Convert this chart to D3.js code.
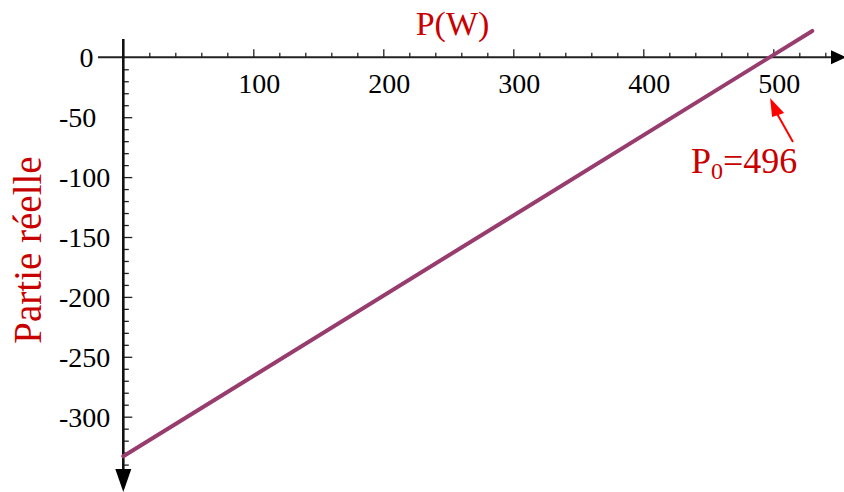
<!DOCTYPE html>
<html>
<head>
<meta charset="utf-8">
<script src="https://cdn.jsdelivr.net/npm/d3@7"></script>
<style>
  html, body { margin: 0; padding: 0; background: #fff; }
  svg { display: block; }
  svg text, svg tspan { font-family: "Liberation Serif", serif !important; }
</style>
</head>
<body>
<svg id="chart" width="844" height="492" font-family="Liberation Serif"></svg>
<script>
// ---- data ----
const pValues = [0, 530];            // P (W)
const realPart = [-333, 22];         // Partie réelle
const xTickLabels = [100, 200, 300, 400, 500];
const yTickLabels = [0, -50, -100, -150, -200, -250, -300];
const xMinorTicks = d3.range(0, 541, 20);
const yMinorTicks = d3.range(0, -341, -10);
const p0 = 496;
const xTitle = "P(W)";
const yTitle = "Partie réelle";

const red = "#c80000";
const FONT = "Liberation Serif";

const svg = d3.select("#chart");

const x = d3.scaleLinear().domain([0, 500]).range([123.3, 773.3]);
const y = d3.scaleLinear().domain([0, -300]).range([57.3, 416.7]);

// ---- X axis (ticks above line) ----
const gx = svg.append("g").attr("transform", `translate(0,${y(0)})`);
gx.call(d3.axisTop(x).tickValues(xMinorTicks).tickSize(4.5).tickSizeOuter(0).tickFormat(""));
gx.attr("font-family", null).attr("font-size", null);
gx.select(".domain").remove();
gx.selectAll(".tick text").remove();
gx.selectAll(".tick line").attr("stroke", "#222").attr("stroke-width", 1.3)
  .attr("y2", d => (d % 100 === 0 ? -8 : -4.5));
gx.selectAll(".tick").filter(d => d === 0).remove();
svg.append("line").attr("x1", 98).attr("x2", 834).attr("y1", y(0)).attr("y2", y(0))
  .attr("stroke", "#222").attr("stroke-width", 2);
svg.append("path").attr("d", `M831,${y(0) - 7} L846,${y(0)} L831,${y(0) + 7} Z`).attr("fill", "#000");

svg.append("g").selectAll("text").data(xTickLabels).join("text")
  .attr("x", d => x(d) + 6).attr("y", 93)
  .attr("text-anchor", "middle")
  .attr("font-family", FONT).attr("font-size", 28).attr("fill", "#000")
  .text(d => d);

// ---- Y axis (ticks right of line) ----
const gy = svg.append("g").attr("transform", `translate(${x(0)},0)`);
gy.call(d3.axisRight(y).tickValues(yMinorTicks).tickSize(5).tickSizeOuter(0).tickFormat(""));
gy.attr("font-family", null).attr("font-size", null);
gy.select(".domain").remove();
gy.selectAll(".tick text").remove();
gy.selectAll(".tick line").attr("stroke", "#222").attr("stroke-width", 1.3)
  .attr("x2", d => (d % 50 === 0 ? 9 : 5.5));
gy.selectAll(".tick").filter(d => d === 0).remove();
svg.append("line").attr("x1", x(0)).attr("x2", x(0)).attr("y1", 39).attr("y2", 472)
  .attr("stroke", "#111").attr("stroke-width", 2.6);
svg.append("path").attr("d", `M${x(0) - 8},469 L${x(0)},492 L${x(0) + 8},469 Z`).attr("fill", "#000");

svg.append("g").selectAll("text").data(yTickLabels).join("text")
  .attr("x", d => (d === 0 ? 93.5 : 59))
  .attr("y", d => y(d) + 10)
  .attr("text-anchor", d => (d === 0 ? "end" : "start"))
  .attr("font-family", FONT).attr("font-size", 28).attr("fill", "#000")
  .text(d => (d < 0 ? "-" + Math.abs(d) : d));

// ---- data line ----
const line = d3.line().x(d => x(d[0])).y(d => y(d[1]));
svg.append("path")
  .datum(pValues.map((p, i) => [p, realPart[i]]))
  .attr("d", line)
  .attr("fill", "none").attr("stroke", "#983c6e").attr("stroke-width", 4)
  .attr("stroke-linecap", "round");

// ---- titles ----
svg.append("text").attr("x", 452.5).attr("y", 34.5).attr("text-anchor", "middle")
  .attr("font-family", FONT).attr("font-size", 34).attr("fill", red).text(xTitle);
svg.append("text").attr("transform", "translate(41,250) rotate(-90)")
  .attr("text-anchor", "middle")
  .attr("font-family", FONT).attr("font-size", 39).attr("fill", red).text(yTitle);

// ---- annotation ----
const tipX = x(p0) + 2, tipY = 98;
svg.append("line").attr("x1", 793).attr("y1", 142).attr("x2", tipX + 6).attr("y2", tipY + 14)
  .attr("stroke", "#ff0000").attr("stroke-width", 2);
svg.append("path")
  .attr("d", `M${tipX},${tipY} L${tipX + 14},${tipY + 15} L${tipX + 2},${tipY + 19} Z`)
  .attr("fill", "#ff0000");
const ann = svg.append("text").attr("x", 691).attr("y", 172.5)
  .attr("font-family", FONT).attr("font-size", 36).attr("fill", red);
ann.append("tspan").text("P");
ann.append("tspan").attr("font-size", 24).attr("dy", 6).text("0");
ann.append("tspan").attr("dy", -6).text("=" + p0);
</script>
</body>
</html>
